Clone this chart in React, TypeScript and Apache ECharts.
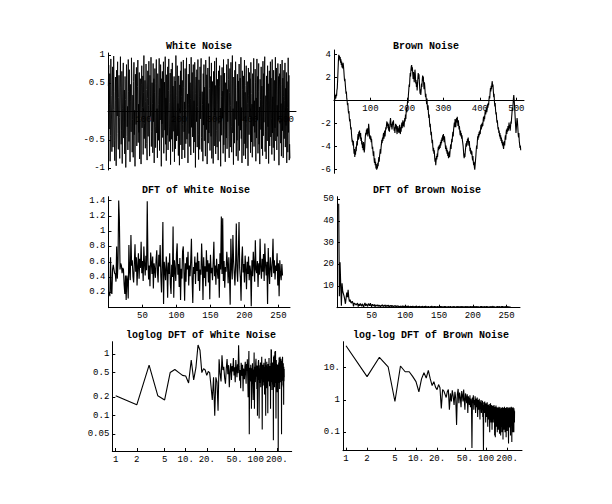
import React, { useEffect, useRef } from "react";
import * as echarts from "echarts";

// ---------- data ----------
const whiteNoise = [
  0.45,0.82,-0.31,0.12,0.67,-0.88,-0.42,0.93,0.28,-0.15,-0.71,0.56,0.79,-0.63,0.04,0.98,
  0.36,-0.52,-0.87,-0.24,0.61,0.19,-0.96,0.73,0.51,-0.08,0.88,-0.39,-0.67,0.25,0.64,-0.11,
  -0.83,0.42,0.97,0.15,-0.58,-0.33,0.71,-0.92,0.06,0.54,0.86,-0.47,-0.19,0.38,-0.75,0.62,
  0.21,-0.99,-0.44,0.83,0.57,-0.27,0.09,-0.68,0.92,0.35,-0.53,0.74,-0.06,-0.89,0.48,0.17,
  -0.36,0.95,0.61,-0.72,-0.14,0.29,-0.81,0.53,0.87,-0.41,0.02,-0.97,0.66,0.31,-0.23,0.78,
  -0.61,-0.18,0.44,0.91,-0.55,0.13,-0.37,0.69,-0.84,0.26,0.58,-0.12,-0.93,0.47,0.81,-0.29,
  0.07,0.63,-0.76,0.34,0.99,-0.48,-0.21,0.55,-0.65,0.18,0.84,0.39,-0.57,-0.86,0.23,0.72,
  -0.44,0.11,0.89,-0.31,-0.79,0.64,0.27,-0.09,0.96,-0.62,-0.35,0.51,0.14,-0.73,0.85,-0.18,
  0.58,-0.91,0.33,0.76,-0.26,-0.64,0.49,0.92,-0.38,0.05,-0.82,0.67,0.29,-0.51,0.12,0.94,
  -0.69,0.41,-0.15,0.83,0.36,-0.97,0.58,-0.22,0.71,-0.46,0.19,0.88,-0.74,-0.05,0.52,-0.33,
  0.97,-0.58,0.24,-0.87,0.65,0.11,-0.42,0.79,-0.68,0.37,0.93,-0.27,-0.53,0.16,0.68,-0.94,
  0.32,0.75,-0.49,-0.12,0.86,-0.71,0.45,0.08,-0.35,0.62,-0.89,0.21,0.54,-0.66,0.99,-0.17,
  -0.52,0.28,0.81,-0.43,0.14,-0.78,0.63,0.37,-0.95,0.47,-0.03,0.72,-0.59,0.88,0.26,-0.84,
  0.55,-0.23,-0.68,0.91,0.42,-0.36,0.17,-0.82,0.76,0.04,-0.57,0.64,0.95,-0.49,-0.14,0.31,
  -0.91,0.66,0.12,-0.39,0.84,-0.62,0.51,0.23,-0.77,0.96,-0.28,-0.06,0.69,-0.45,0.37,0.83,
  -0.73,0.19,-0.54,0.87,0.47,-0.99,0.32,0.61,-0.18,0.74,-0.63,0.09,0.92,-0.41,-0.85,0.56,
  0.26,-0.67,0.79,-0.13,0.58,0.94,-0.46,-0.71,0.35,0.12,-0.88,0.67,-0.24,0.83,-0.52,0.43,
  0.03,-0.79,0.91,0.48,-0.32,0.65,-0.93,0.22,0.77,-0.56,0.14,-0.38,0.97,0.41,-0.69,-0.11,
  0.62,-0.44,0.86,-0.83,0.29,0.53,-0.16,-0.92,0.71,0.38,-0.61,0.89,-0.07,0.46,-0.75,0.18,
  0.95,-0.34,-0.63,0.57,0.13,-0.86,0.72,-0.21,0.44,0.81,-0.53,0.06,-0.97,0.64,0.27,-0.42,
  0.78,-0.12,0.36,-0.74,0.92,-0.59,0.15,0.68,-0.31,-0.89,0.51,0.24,-0.47,0.83,-0.66,0.39,
  -0.18,0.93,0.57,-0.45,-0.82,0.34,0.76,-0.63,0.11,0.87,-0.27,-0.72,0.49,0.99,-0.38,0.05,
  -0.94,0.61,0.22,-0.56,0.73,-0.14,0.88,0.43,-0.79,0.18,-0.51,0.66,0.31,-0.87,0.54,-0.25,
  0.84,-0.69,0.17,0.59,-0.33,0.96,-0.48,0.07,-0.91,0.72,0.39,-0.16,0.63,-0.78,0.26,0.91,
  -0.57,0.34,-0.84,0.46,0.81,-0.22,-0.65,0.53,0.14,-0.96,0.77,0.28,-0.41,0.69,-0.09,0.58,
  -0.73,0.87,0.32,-0.54,0.13,-0.81,0.67,0.41,-0.26,0.94,-0.62,0.19,-0.37,0.75,0.52,-0.88,
  0.24,-0.47,0.93,-0.15,0.62,-0.74,0.36,0.85,-0.58,0.08,-0.93,0.57,0.21,-0.32,0.79,-0.66,
  0.45,0.12,-0.78,0.89,-0.43,0.67,-0.19,0.54,0.97,-0.71,-0.36,0.28,-0.84,0.63,0.16,-0.52,
  0.81,-0.27,0.49,-0.92,0.35,0.72,-0.61,0.04,0.88,-0.45,0.59,-0.13,-0.76,0.92,-0.38,0.26,
  -0.64,0.73,0.18,-0.87,0.55,-0.29,0.96,-0.52,0.33,0.77,-0.68,0.11,-0.44,0.85,-0.16,0.62,
  -0.95,0.38,0.67,-0.21,0.84,-0.56,0.14,-0.79,0.47,0.91,-0.34,0.59,-0.82,0.26,0.73,-0.48,
  0.19,0.86,-0.63,0.41,-0.25,0.69,-0.91,0.53,0.07,-0.72,0.95,-0.37,0.64,-0.86,-0.58,-0.83,
];

const brownNoise = [
  0,0.3,0.1,0.5,0.2,0.6,0.4,0.9,1.1,1.8,2.6,3.4,4.0,3.7,3.9,3.5,
  3.8,3.3,3.6,3.1,3.4,2.9,3.2,2.8,3.3,3.0,2.6,2.1,1.7,1.9,1.4,1.0,
  0.6,0.8,0.2,0.0,-0.4,-0.2,-0.8,-1.1,-0.9,-1.5,-1.8,-1.6,-2.1,-2.5,-2.3,-2.9,
  -3.3,-3.6,-3.4,-3.9,-3.5,-4.1,-4.6,-4.2,-4.9,-4.4,-4.7,-4.0,-4.4,-3.8,-3.5,-3.9,
  -3.2,-2.9,-3.4,-2.7,-3.1,-2.6,-3.0,-3.3,-2.8,-3.5,-3.2,-3.8,-3.5,-4.1,-3.7,-4.3,
  -3.6,-4.0,-4.5,-4.2,-3.6,-3.1,-2.8,-3.0,-2.5,-2.9,-2.4,-2.7,-3.1,-2.6,-2.0,-2.4,
  -2.9,-3.3,-3.0,-3.4,-3.1,-3.6,-3.3,-3.8,-4.2,-4.0,-4.5,-4.8,-4.4,-5.1,-5.4,-5.0,
  -5.6,-5.3,-5.9,-5.5,-6.0,-5.7,-5.9,-5.4,-5.7,-5.2,-4.9,-5.3,-4.8,-4.5,-4.2,-4.6,
  -4.1,-3.8,-3.4,-3.7,-3.2,-3.5,-3.0,-2.8,-3.3,-2.9,-2.6,-3.1,-2.7,-2.3,-2.5,-2.1,
  -1.8,-2.2,-1.9,-2.4,-2.0,-2.6,-2.3,-2.7,-2.2,-1.8,-1.5,-1.9,-2.3,-2.0,-2.5,-2.2,
  -1.8,-2.1,-1.7,-2.2,-2.6,-2.3,-2.8,-2.4,-2.0,-2.4,-2.1,-2.6,-2.9,-2.5,-2.2,-2.7,
  -2.4,-2.8,-2.5,-2.1,-2.6,-2.9,-2.3,-2.7,-2.2,-1.9,-2.4,-2.0,-1.7,-2.2,-1.8,-2.3,
  -1.9,-1.5,-1.8,-1.2,-1.6,-0.9,-0.6,-1.0,-0.4,0.1,-0.2,0.5,0.9,1.4,1.2,1.9,
  2.4,2.1,2.7,3.0,3.1,2.6,2.9,2.3,1.9,2.5,2.0,1.6,2.2,2.7,2.3,1.5,
  1.8,1.2,1.6,0.9,1.4,2.0,2.4,1.9,2.3,1.7,1.1,0.6,1.0,0.5,0.9,1.5,
  1.2,1.8,2.2,1.7,2.1,1.4,1.0,1.6,1.2,0.7,0.3,0.6,0.1,-0.3,0.2,-0.5,
  -0.8,-0.4,-1.1,-1.5,-1.2,-1.9,-2.3,-2.0,-2.6,-3.0,-2.7,-3.3,-3.7,-3.4,-4.0,-4.4,
  -4.1,-4.6,-4.3,-4.9,-5.3,-5.0,-5.6,-5.2,-4.8,-5.1,-4.6,-4.9,-4.4,-4.0,-4.3,-3.9,
  -4.2,-3.8,-4.1,-3.6,-3.9,-3.4,-3.7,-3.2,-3.5,-3.0,-3.4,-2.9,-3.3,-3.6,-3.1,-3.5,
  -3.8,-4.2,-3.9,-4.4,-4.1,-4.6,-4.3,-4.8,-4.5,-5.0,-4.7,-4.4,-4.9,-4.5,-4.1,-3.8,
  -4.2,-3.7,-3.3,-3.6,-3.0,-2.7,-3.1,-2.5,-2.2,-1.9,-2.3,-1.6,-1.9,-2.3,-1.8,-1.5,
  -1.9,-1.4,-1.8,-2.2,-1.7,-2.1,-2.5,-2.2,-2.7,-3.0,-2.6,-3.1,-2.8,-3.3,-3.0,-3.4,
  -3.4,-3.9,-4.3,-4.8,-5.0,-4.6,-4.9,-4.4,-4.1,-3.7,-4.0,-3.5,-3.9,-3.3,-3.6,-3.2,
  -3.6,-3.9,-3.5,-4.0,-4.4,-4.1,-4.6,-4.3,-4.7,-4.4,-4.9,-5.2,-4.8,-5.3,-5.6,-5.3,
  -5.8,-6.0,-5.6,-5.2,-4.8,-4.3,-3.9,-4.2,-3.6,-3.1,-3.4,-2.9,-3.2,-2.7,-3.0,-2.6,
  -2.9,-2.4,-2.1,-2.5,-2.0,-2.3,-1.9,-2.2,-1.7,-1.4,-1.8,-1.3,-1.6,-1.1,-0.8,-1.2,
  -0.9,-0.6,-1.0,-0.7,-0.3,-0.6,-0.2,-0.4,0.1,0.4,0.2,0.7,1.1,0.8,1.3,1.0,
  1.5,1.7,1.2,1.4,0.8,0.3,0.6,-0.1,-0.5,-0.2,-0.8,-1.2,-1.0,-1.6,-1.9,-1.7,
  -2.2,-2.5,-2.3,-2.8,-2.6,-3.1,-2.8,-3.3,-3.0,-3.5,-3.2,-3.7,-3.4,-3.9,-3.6,-4.0,
  -4.2,-3.8,-3.5,-3.9,-3.3,-3.0,-3.4,-2.8,-2.5,-2.9,-2.4,-2.7,-2.2,-2.6,-2.3,-1.9,
  -2.4,-2.1,-2.6,-2.3,-1.8,-2.0,-1.5,-1.1,-0.6,-0.9,-0.3,0.2,0.5,0.1,-0.4,-1.0,
  -1.6,-2.2,-2.8,-2.4,-1.9,-1.5,-1.8,-2.3,-2.9,-3.2,-2.8,-3.5,-3.8,-4.1,-3.9,-4.3,
];

const dftWhite = [
  0.21,0.15,0.66,0.21,0.18,0.50,0.56,0.50,0.45,0.44,0.34,0.80,0.38,0.60,1.40,1.15,
  0.50,0.58,0.55,0.45,0.52,0.50,0.30,0.18,0.42,0.10,0.42,0.35,0.12,0.82,0.48,0.36,
  0.95,0.55,0.62,0.41,0.33,0.58,0.83,0.47,0.66,0.29,0.54,0.71,0.38,0.64,0.52,0.86,
  0.45,0.61,0.35,0.80,0.57,0.42,0.68,0.49,1.39,0.63,0.37,0.55,0.28,0.72,0.60,0.44,
  0.67,0.25,0.58,0.50,0.39,0.62,0.75,0.46,0.33,0.69,0.54,0.82,0.41,0.20,0.58,1.12,
  0.05,0.60,0.48,0.36,0.67,0.52,0.13,0.59,0.44,0.71,0.31,0.18,0.56,0.40,1.06,0.13,
  0.62,0.49,0.35,0.70,0.84,0.43,0.57,0.27,0.65,0.10,0.51,0.38,0.74,0.80,0.46,0.09,
  0.58,0.34,0.66,0.50,0.73,0.29,0.55,0.41,0.62,0.90,0.37,0.06,0.53,0.44,0.67,0.31,
  0.59,0.48,0.72,0.35,0.61,0.22,0.50,0.43,0.84,0.57,0.10,0.66,0.39,0.54,0.28,0.75,
  0.47,0.62,0.33,0.58,0.11,0.69,0.45,0.52,0.36,0.60,0.86,0.41,0.55,0.30,0.64,0.49,
  0.38,0.57,0.13,0.71,0.50,1.19,0.44,1.17,0.35,0.61,0.26,0.53,0.47,0.73,0.58,0.32,
  0.66,0.40,0.04,0.90,0.54,0.37,0.95,0.62,0.45,0.29,0.58,1.10,0.48,0.34,0.70,1.12,
  0.52,0.39,0.09,0.63,0.80,0.46,0.57,0.33,0.68,0.51,0.24,0.60,0.44,0.67,0.36,0.55,
  0.48,0.02,0.62,0.41,0.73,0.57,0.34,0.88,0.50,0.45,0.61,0.27,0.58,0.43,0.90,0.52,
  0.38,0.64,0.47,0.70,0.35,0.84,0.56,0.42,0.60,0.05,0.78,0.49,0.31,0.66,0.53,0.40,
  0.59,0.90,0.45,0.62,0.37,0.55,0.48,0.71,0.29,0.58,0.15,0.62,0.44,0.36,0.57,0.42,
];

const dftBrown = [
  48,5.3,21,10.7,0.9,11.3,7.5,7.5,5.3,3.7,1.8,4.5,7.0,4.8,8.3,4.5,
  2.8,3.7,2.5,2.1,3.0,2.4,0.55,2.1,1.9,1.5,1.2,1.8,2.1,0.5,1.6,0.9,
  2.0,1.3,0.7,1.8,1.1,0.17,1.5,2.2,0.8,1.7,1.2,0.6,1.9,1.4,0.9,2.1,
  1.0,0.5,1.6,1.2,0.8,1.5,0.4,1.3,1.0,0.7,1.4,0.6,1.1,0.9,0.033,1.2,
  0.8,1.4,0.5,1.0,0.7,1.3,0.4,0.9,1.1,0.6,1.2,0.3,0.8,1.0,0.5,1.1,
  0.7,0.25,0.9,0.6,1.0,0.4,0.8,0.55,0.95,0.3,0.7,0.028,0.85,0.6,0.4,0.9,
  0.5,0.75,0.2,0.8,0.45,0.65,0.3,0.85,0.5,0.15,0.7,0.4,0.6,0.25,0.75,0.45,
  0.1,0.65,0.35,0.8,0.5,0.2,0.6,0.4,0.7,0.12,0.55,0.3,0.65,0.45,0.2,0.6,
  0.38,0.7,0.25,0.5,0.08,0.62,0.35,0.07,0.55,0.3,0.68,0.42,0.15,0.5,0.33,0.6,
  0.1,0.48,0.27,0.58,0.4,0.12,0.52,0.3,0.62,0.2,0.45,0.09,0.5,0.35,0.6,0.22,
  0.42,0.08,0.55,0.3,0.48,0.15,0.58,0.36,0.1,0.5,0.28,0.6,0.18,0.44,0.06,0.52,
  0.32,0.58,0.2,0.45,0.12,0.55,0.35,0.62,0.25,0.48,0.1,0.5,0.3,0.57,0.16,0.42,
  0.55,0.07,0.46,0.3,0.6,0.2,0.5,0.35,0.11,0.54,0.28,0.45,0.6,0.18,0.4,0.52,
  0.09,0.045,0.5,0.33,0.58,0.22,0.46,0.14,0.55,0.3,0.42,0.6,0.2,0.5,0.36,0.08,
  0.48,0.28,0.56,0.18,0.44,0.62,0.25,0.5,0.12,0.05,0.46,0.32,0.58,0.2,0.52,0.38,
  0.1,0.55,0.3,0.6,0.22,0.47,0.15,0.5,0.35,0.1,0.56,0.26,0.48,0.4,0.2,0.45,
];

const titles = [
  "White Noise",
  "Brown Noise",
  "DFT of White Noise",
  "DFT of Brown Noise",
  "loglog DFT of White Noise",
  "log-log DFT of Brown Noise",
];
const timeTicks = [100, 200, 300, 400, 500];
const whiteYTicks = [-1, -0.5, 0.5, 1];
const brownYTicks = [-6, -4, -2, 2, 4];
const dftXTicks = [50, 100, 150, 200, 250];
const dftWhiteYTicks = [0.2, 0.4, 0.6, 0.8, 1, 1.2, 1.4];
const dftBrownYTicks = [10, 20, 30, 40, 50];
const logXTicks = [1, 2, 5, 10, 20, 50, 100, 200];
const logXLabels = ["1", "2", "5", "10.", "20.", "50.", "100", "200."];
const logWhiteYTicks = [0.05, 0.1, 0.2, 0.5, 1];
const logWhiteYLabels = ["0.05", "0.1", "0.2", "0.5", "1"];
const logBrownYTicks = [0.1, 1, 10];
const logBrownYLabels = ["0.1", "1", "10."];

// ---------- layout ----------
const FONT = "'Liberation Mono', 'DejaVu Sans Mono', monospace";
const grids = [
  { left: 108, top: 53, width: 188, height: 117 },
  { left: 334, top: 50, width: 190, height: 123.3 },
  { left: 108.5, top: 196.7, width: 181.5, height: 111 },
  { left: 337, top: 196.7, width: 183, height: 111 },
  { left: 112.3, top: 341.7, width: 179.4, height: 109.3 },
  { left: 343, top: 341.7, width: 179, height: 109 },
];
// x axes of the time plots sit at y = 0: shift them up from the grid bottom
const xAxisOffsets = [-58.5, -72.6, 0, 0, 0, 0];
const lineWidths = [0.9, 1.1, 1.15, 1.15, 1.1, 1.1];
const titlePos = [
  [199, 46],
  [426, 46],
  [196, 190],
  [427, 190],
  [201, 335],
  [431, 335],
];

function makeAxis(
  dim: "x" | "y",
  gridIndex: number,
  type: "value" | "log",
  min: number,
  max: number,
  ticks: number[],
  labels?: string[],
  offset = 0
) {
  const fmt = (v: number) => {
    const i = ticks.findIndex(
      (t) => Math.abs(t - v) <= 1e-6 * Math.max(1, Math.abs(t))
    );
    if (i < 0) return "";
    return labels ? labels[i] : String(ticks[i]);
  };
  const ax: any = {
    type,
    gridIndex,
    min,
    max,
    offset,
    axisLine: {
      show: true,
      onZero: false,
      lineStyle: { color: "#000", width: 1 },
    },
    axisTick: {
      show: true,
      inside: true,
      length: 3,
      customValues: ticks,
      lineStyle: { color: "#000", width: 1 },
    },
    axisLabel: {
      show: true,
      customValues: ticks,
      formatter: fmt,
      margin: dim === "x" ? 4 : 3,
      fontFamily: FONT,
      fontSize: 9,
      color: "#000",
    },
    splitLine: { show: false },
    axisPointer: { show: false },
  };
  if (type === "log") ax.logBase = 10;
  return ax;
}

export default function App() {
  const ref = useRef<HTMLDivElement>(null);
  useEffect(() => {
    if (!ref.current) return;
    const chart = echarts.init(ref.current, undefined, { renderer: "svg" });

    const xAxis = [
      makeAxis("x", 0, "value", 0, 529, timeTicks, undefined, xAxisOffsets[0]),
      makeAxis("x", 1, "value", 0, 521, timeTicks, undefined, xAxisOffsets[1]),
      makeAxis("x", 2, "value", 0, 267, dftXTicks),
      makeAxis("x", 3, "value", -1.5, 270, dftXTicks),
      makeAxis("x", 4, "log", 0.894, 327, logXTicks, logXLabels),
      makeAxis("x", 5, "log", 0.906, 327, logXTicks, logXLabels),
    ];
    const yAxis = [
      makeAxis("y", 0, "value", -1.035, 1.035, whiteYTicks),
      makeAxis("y", 1, "value", -6.31, 4.41, brownYTicks),
      makeAxis("y", 2, "value", 0, 1.45, dftWhiteYTicks),
      makeAxis("y", 3, "value", 0, 51.2, dftBrownYTicks),
      makeAxis("y", 4, "log", 0.0268, 1.583, logWhiteYTicks, logWhiteYLabels),
      makeAxis("y", 5, "log", 0.027, 63.8, logBrownYTicks, logBrownYLabels),
    ];

    const seriesData = [whiteNoise, brownNoise, dftWhite, dftBrown, dftWhite, dftBrown];
    const series = seriesData.map((arr, i) => ({
      type: "line",
      xAxisIndex: i,
      yAxisIndex: i,
      data: arr.map((v, k) => [k + 1, v]),
      showSymbol: false,
      symbol: "none",
      silent: true,
      lineStyle: { color: "#000", width: lineWidths[i] },
      z: 3,
    }));

    chart.setOption({
      animation: false,
      backgroundColor: "#fff",
      grid: grids.map((g) => ({ ...g, containLabel: false })),
      xAxis,
      yAxis,
      series,
      graphic: titles.map((t, i) => ({
        type: "text",
        x: titlePos[i][0],
        y: titlePos[i][1],
        style: {
          text: t,
          font: `bold 10px ${FONT}`,
          fill: "#000",
          align: "center",
          verticalAlign: "middle",
        },
      })),
    });
    return () => chart.dispose();
  }, []);
  return (
    <div
      ref={ref}
      style={{
        position: "fixed",
        left: 0,
        top: 0,
        width: 612,
        height: 504,
        background: "#fff",
      }}
    />
  );
}
